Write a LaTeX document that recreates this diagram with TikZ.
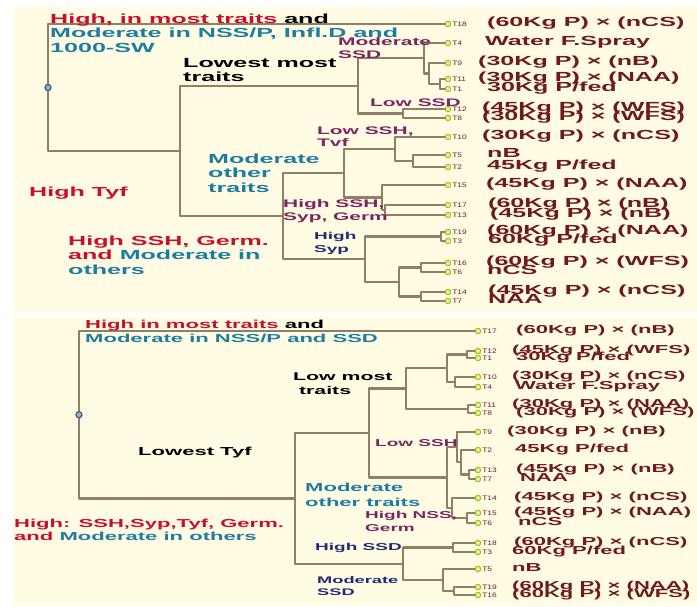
\documentclass[tikz,border=0pt]{standalone}
\usepackage{fontspec}
\setmainfont{Liberation Sans}[FakeStretch=1.9]
\newfontfamily\tnumfont{Liberation Sans}[FakeStretch=1.3]
\definecolor{cream}{HTML}{FFFCE3}
\definecolor{brline}{HTML}{907F66}
\definecolor{leafring}{HTML}{9DC21F}
\definecolor{leafin}{HTML}{E4F28C}
\definecolor{rootring}{HTML}{3B5775}
\definecolor{rootin}{HTML}{8FB2CF}
\definecolor{lbltxt}{HTML}{6E1B1B}
\definecolor{hired}{HTML}{C8102E}
\definecolor{tealc}{HTML}{1E7CA3}
\definecolor{purp}{HTML}{7B2463}
\definecolor{navyc}{HTML}{1F2A77}

\begin{document}
\begin{tikzpicture}[line cap=round,line join=round,x=1pt,y=-1pt,
    br/.style={draw=brline,line width=2.3pt},
    leaf/.style={circle,draw=leafring,fill=leafin,line width=1pt,inner sep=0pt,minimum size=5.5pt},
    root/.style={circle,draw=rootring,fill=rootin,line width=1pt,inner sep=0pt,minimum size=6pt},
    tnum/.style={font=\tnumfont\fontsize{6.5}{6.5}\selectfont,text=lbltxt,inner sep=0.8pt},
    lbl/.style={anchor=west,inner sep=0pt,text=lbltxt,text height=0.74em,text depth=0.21em,
      font=\bfseries\fontsize{13.2}{14.5}\selectfont},
    lblb/.style={lbl,font=\bfseries\fontsize{11.6}{13}\selectfont},
    note/.style={anchor=west,inner sep=0pt,align=left,font=\bfseries\fontsize{13.2}{14.5}\selectfont},
    tag/.style={note,font=\bfseries\fontsize{11}{12.5}\selectfont},
    noteb/.style={note,font=\bfseries\fontsize{11.6}{14}\selectfont},
    tagb/.style={note,font=\bfseries\fontsize{10}{12.5}\selectfont}]
  \fill[white] (0,0) rectangle (697,606);
  \useasboundingbox (0,0) rectangle (697,606);
  \fill[cream] (13,7) rectangle (697,312);
  \fill[cream] (13,317) rectangle (697,606);

  % upper tree
  \foreach \t/\y/\x/\s in {18/24/487/{(60Kg P) × (nCS)},4/43/485/{Water F.Spray},
      9/63/478/{(30Kg P) × (nB)},11/79/478/{(30Kg P) × (NAA)},1/89/487/{30Kg P/fed},
      12/109/482/{(45Kg P) × (WFS)},8/118/482/{(30Kg P) × (WFS)},10/137/482/{(30Kg P) × (nCS)},
      5/155/487/{nB},2/167/487/{45Kg P/fed},15/185/486/{(45Kg P) × (NAA)},
      17/205/488/{(60Kg P) × (nB)},13/215/490/{(45Kg P) × (nB)},19/232/487/{(60Kg P) × (NAA)},
      3/241/488/{60Kg P/fed},16/263/486/{(60Kg P) × (WFS)},6/272/487/{nCS},
      14/292/488/{(45Kg P) × (nCS)},7/301/488/{NAA}}
  {
    \node[leaf,label={[tnum]right:T\t}] (aT\t) at (448,\y) {};
    \node[lbl] (atxt\t) at (\x,\y) {\s};
  }
  \foreach \p/\x/\y in {aE/440/84,aD/429/73.5,aC/424/58.25,aF/403/113.5,aB/358/85.9,
      aJ/413/161,aI/395/149,aL/385/210,aK/382/197.5,aH/344/173.25,aN/441/236.5,
      aP/421/267.5,aQ/421/296.5,aO/399/282,aM/365/259.25,aG/283/216.25,aA/180/151.1}
    \coordinate (\p) at (\x,\y);
  \node[root] (aR) at (48,87.5) {};
  \foreach \p/\u/\v in {aE/aT11/aT1,aD/aT9/aE,aC/aT4/aD,aF/aT12/aT8,aB/aC/aF,
      aJ/aT5/aT2,aI/aT10/aJ,aL/aT17/aT13,aK/aT15/aL,aH/aI/aK,aN/aT19/aT3,
      aP/aT16/aT6,aQ/aT14/aT7,aO/aP/aQ,aM/aN/aO,aG/aH/aM,aA/aB/aG,aR/aT18/aA}
    \draw[br] (\u) -| (\p) |- (\v);
  \node[root] at (aR) {};

  \node[note] (ahead) at (50,33) {\textcolor{hired}{High, in most traits} and\\
    \textcolor{tealc}{Moderate in NSS/P, Infl.D and}\\ \textcolor{tealc}{1000-SW}};
  \node[note] (alowest) at (183,70) {Lowest most\\traits};
  \node[tag,text=purp] (amodssd) at (338,48) {Moderate\\SSD};
  \node[tag,text=purp] (alowssd) at (370,103) {Low SSD};
  \node[tag,text=purp] (alowssh) at (317,136.5) {Low SSH,\\Tvf};
  \node[note,text=tealc] (amodoth) at (208,173) {Moderate\\other\\traits};
  \node[tag,text=purp] (ahighssh) at (283,211) {High SSH,\\Syp, Germ};
  \node[tag,text=navyc,font=\bfseries\fontsize{10}{13}\selectfont] (ahighsyp) at (314,243.5) {High\\Syp};
  \node[note,text=hired] (ahightyf) at (29,193) {High Tyf};
  \node[note] (ahighgerm) at (68,255) {\textcolor{hired}{High SSH, Germ.}\\
    \textcolor{hired}{and} \textcolor{tealc}{Moderate in}\\ \textcolor{tealc}{others}};

  % lower tree
  \foreach \t/\y/\x/\s in {17/331/516/{(60Kg P) × (nB)},12/351/512/{(45Kg P) × (WFS)},
      1/358/516/{30Kg P/fed},10/377/512/{(30Kg P) × (nCS)},4/387/515/{Water F.Spray},
      11/405/512/{(30Kg P) × (NAA)},8/413/516/{(30Kg P) × (WFS)},9/432/507/{(30Kg P) × (nB)},
      2/450/515/{45Kg P/fed},13/470/516/{(45Kg P) × (nB)},7/479/520/{NAA},
      14/498/514/{(45Kg P) × (nCS)},15/513/514/{(45Kg P) × (NAA)},6/523/518/{nCS},
      18/543/514/{(60Kg P) × (nCS)},3/552/512/{60Kg P/fed},5/569/512/{nB},
      19/587/512/{(60Kg P) × (NAA)},16/595/512/{(60Kg P) × (WFS)}}
  {
    \node[leaf,label={[tnum]right:T\t}] (bT\t) at (478,\y) {};
    \node[lblb] (btxt\t) at (\x,\y) {\s};
  }
  \foreach \p/\x/\y in {bP/467/354.5,bQ/455/382,bN/447/368.25,bO/468/409,bC/406/388.6,
      bH/469/474.5,bG/461/462.25,bE/457/447.1,bI/467/518,bF/452/508,bD/447/477.6,
      bB/369/433.1,bK/453/547.5,bM/454/591,bL/443/580,bJ/403/563.75,bA/295/498.4}
    \coordinate (\p) at (\x,\y);
  \node[root] (bR) at (79,414.7) {};
  \foreach \p/\u/\v in {bP/bT12/bT1,bQ/bT10/bT4,bN/bP/bQ,bO/bT11/bT8,bC/bN/bO,
      bH/bT13/bT7,bG/bT2/bH,bE/bT9/bG,bI/bT15/bT6,bF/bT14/bI,bD/bE/bF,bB/bC/bD,
      bK/bT18/bT3,bM/bT19/bT16,bL/bT5/bM,bJ/bK/bL,bA/bB/bJ,bR/bT17/bA}
    \draw[br] (\u) -| (\p) |- (\v);
  \node[root] at (bR) {};

  \node[noteb] (bhead) at (85,331) {\textcolor{hired}{High in most traits} and\\
    \textcolor{tealc}{Moderate in NSS/P and SSD}};
  \node[noteb,font=\bfseries\fontsize{11.2}{14}\selectfont] (blowmost) at (293,384) {Low most\\\ traits};
  \node[tagb,text=purp] (blowssh) at (375,443) {Low SSH};
  \node[noteb] (blowtyf) at (138,452) {Lowest Tyf};
  \node[noteb,text=tealc,font=\bfseries\fontsize{11.6}{15}\selectfont] (bmodoth) at (305,494.5) {Moderate\\other traits};
  \node[tagb,text=purp,font=\bfseries\fontsize{10}{13}\selectfont] (bhighnss) at (365,521.5) {High NSS,\\Germ};
  \node[tagb,text=navyc] (bhighssd) at (315,548) {High SSD};
  \node[tagb,text=navyc,font=\bfseries\fontsize{9.6}{12}\selectfont] (bmodssd) at (317,586) {Moderate\\SSD};
  \node[noteb,font=\bfseries\fontsize{11.6}{13.5}\selectfont] (bhighall) at (14,530)
    {\textcolor{hired}{High: SSH,Syp,Tyf, Germ.}\\
     \textcolor{hired}{and} \textcolor{tealc}{Moderate in others}};
\end{tikzpicture}
\end{document}
